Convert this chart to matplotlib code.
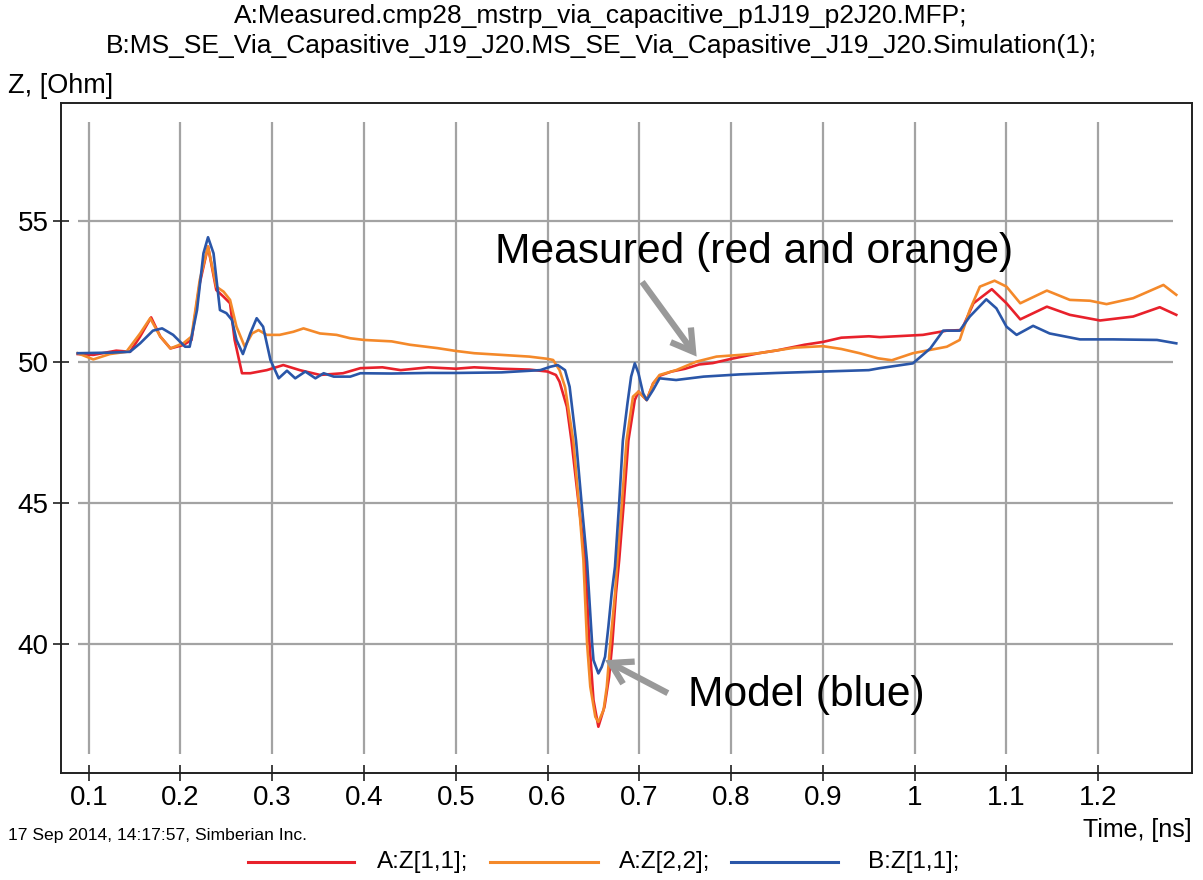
import matplotlib
matplotlib.use("Agg")
import matplotlib.pyplot as plt
from matplotlib.lines import Line2D

# ---- measured / simulated impedance profiles (time in ns, Z in Ohm) ----
t_a11 = [0.088, 0.105, 0.130, 0.145, 0.156, 0.168, 0.178, 0.189, 0.203, 0.212,
         0.221, 0.230, 0.239, 0.247, 0.254, 0.259, 0.267, 0.276, 0.294, 0.312,
         0.330, 0.352, 0.377, 0.396, 0.420, 0.440, 0.470, 0.500, 0.520, 0.550,
         0.580, 0.600, 0.609, 0.613, 0.621, 0.626, 0.633, 0.641, 0.645, 0.650,
         0.6553, 0.662, 0.667, 0.6705, 0.6745, 0.678, 0.683, 0.688, 0.695, 0.699,
         0.708, 0.715, 0.722, 0.735, 0.750, 0.765, 0.780, 0.800, 0.830, 0.850,
         0.880, 0.900, 0.920, 0.950, 0.962, 1.009, 1.035, 1.051, 1.064, 1.084,
         1.100, 1.115, 1.144, 1.169, 1.202, 1.238, 1.267, 1.285]
z_a11 = [50.27, 50.24, 50.39, 50.35, 50.89, 51.57, 50.89, 50.47, 50.59, 50.77,
         52.78, 54.08, 52.54, 52.30, 52.07, 50.77, 49.59, 49.59, 49.70, 49.88,
         49.70, 49.53, 49.59, 49.77, 49.80, 49.70, 49.80, 49.75, 49.80, 49.75,
         49.72, 49.65, 49.53, 49.29, 48.40, 47.20, 45.20, 42.97, 40.30, 38.00,
         37.06, 37.77, 38.83, 40.01, 41.79, 42.97, 45.00, 47.20, 48.64, 48.94,
         48.64, 49.23, 49.50, 49.65, 49.75, 49.90, 49.95, 50.10, 50.30, 50.40,
         50.60, 50.70, 50.85, 50.90, 50.87, 50.95, 51.10, 51.12, 52.07, 52.57,
         52.07, 51.50, 51.95, 51.66, 51.46, 51.60, 51.93, 51.66]

t_a22 = [0.088, 0.105, 0.123, 0.141, 0.156, 0.167, 0.178, 0.189, 0.203, 0.212,
         0.221, 0.230, 0.239, 0.247, 0.254, 0.261, 0.270, 0.278, 0.285, 0.294,
         0.308, 0.323, 0.334, 0.352, 0.370, 0.385, 0.400, 0.430, 0.450, 0.480,
         0.500, 0.520, 0.550, 0.580, 0.600, 0.606, 0.613, 0.619, 0.628, 0.634,
         0.639, 0.643, 0.6465, 0.652, 0.6553, 0.661, 0.6645, 0.668, 0.6735, 0.676,
         0.681, 0.686, 0.693, 0.699, 0.708, 0.715, 0.722, 0.740, 0.762, 0.784,
         0.810, 0.830, 0.850, 0.870, 0.900, 0.920, 0.940, 0.960, 0.975, 0.998,
         1.035, 1.049, 1.060, 1.071, 1.087, 1.100, 1.115, 1.144, 1.169, 1.191,
         1.209, 1.238, 1.271, 1.285]
z_a22 = [50.30, 50.08, 50.27, 50.35, 51.00, 51.54, 50.89, 50.47, 50.65, 50.89,
         52.90, 54.08, 52.66, 52.48, 52.19, 51.24, 50.53, 51.00, 51.12, 50.95,
         50.95, 51.06, 51.18, 51.00, 50.95, 50.83, 50.77, 50.72, 50.60, 50.48,
         50.38, 50.30, 50.24, 50.18, 50.10, 50.06, 49.70, 49.10, 47.20, 45.00,
         42.97, 40.01, 38.48, 37.41, 37.23, 37.65, 38.48, 39.90, 41.79, 42.97,
         45.00, 47.20, 48.76, 48.94, 48.64, 49.23, 49.53, 49.70, 50.00, 50.18,
         50.24, 50.30, 50.40, 50.50, 50.55, 50.45, 50.30, 50.12, 50.05, 50.30,
         50.53, 50.77, 51.83, 52.66, 52.87, 52.66, 52.07, 52.52, 52.19, 52.16,
         52.04, 52.25, 52.72, 52.37]

t_b11 = [0.088, 0.123, 0.145, 0.156, 0.170, 0.180, 0.192, 0.205, 0.210, 0.218,
         0.225, 0.230, 0.236, 0.243, 0.250, 0.256, 0.261, 0.268, 0.276, 0.283,
         0.290, 0.298, 0.307, 0.316, 0.325, 0.336, 0.347, 0.356, 0.367, 0.385,
         0.396, 0.430, 0.470, 0.500, 0.550, 0.592, 0.603, 0.611, 0.619, 0.624,
         0.631, 0.637, 0.643, 0.6485, 0.650, 0.6553, 0.659, 0.6626, 0.6662, 0.6698,
         0.6734, 0.678, 0.682, 0.687, 0.691, 0.695, 0.699, 0.704, 0.708, 0.715,
         0.722, 0.740, 0.770, 0.810, 0.850, 0.900, 0.950, 0.962, 0.998, 1.017,
         1.031, 1.049, 1.060, 1.078, 1.089, 1.100, 1.111, 1.129, 1.147, 1.180,
         1.216, 1.264, 1.285]
z_b11 = [50.30, 50.32, 50.35, 50.65, 51.10, 51.18, 50.95, 50.53, 50.53, 51.83,
         53.84, 54.41, 53.84, 51.83, 51.72, 51.48, 50.77, 50.27, 51.00, 51.54,
         51.24, 50.06, 49.41, 49.68, 49.41, 49.65, 49.41, 49.59, 49.47, 49.47,
         49.59, 49.58, 49.60, 49.60, 49.62, 49.70, 49.82, 49.88, 49.70, 49.11,
         47.20, 45.00, 42.90, 40.01, 39.42, 38.95, 39.18, 39.54, 40.60, 41.79,
         42.73, 45.00, 47.20, 48.52, 49.47, 49.94, 49.59, 48.88, 48.64, 49.00,
         49.41, 49.35, 49.47, 49.55, 49.60, 49.65, 49.70, 49.77, 49.94, 50.47,
         51.10, 51.10, 51.60, 52.21, 51.89, 51.24, 50.95, 51.27, 51.00, 50.79,
         50.79, 50.77, 50.65]

x_ticks = [0.1, 0.2, 0.3, 0.4, 0.5, 0.6, 0.7, 0.8, 0.9, 1.0, 1.1, 1.2]
x_tick_labels = ["0.1", "0.2", "0.3", "0.4", "0.5", "0.6", "0.7", "0.8", "0.9",
                 "1", "1.1", "1.2"]
y_ticks = [40, 45, 50, 55]
y_tick_labels = ["40", "45", "50", "55"]

series_names = ["A:Z[1,1];", "A:Z[2,2];", "B:Z[1,1];"]
series_colors = ["#e8212b", "#f4892a", "#2a56a8"]

title_lines = ["A:Measured.cmp28_mstrp_via_capacitive_p1J19_p2J20.MFP;",
               "B:MS_SE_Via_Capasitive_J19_J20.MS_SE_Via_Capasitive_J19_J20.Simulation(1);"]

plt.rcParams["font.family"] = ["Liberation Sans", "DejaVu Sans"]

W, H = 1203, 880
fig = plt.figure(figsize=(W / 100, H / 100), dpi=100)
ax = fig.add_axes([61 / W, 1 - 772.7 / H, (1191.7 - 61) / W, (772.7 - 102.7) / H])

ax.set_xlim(0.0698, 1.3018)
ax.set_ylim(35.43, 59.18)

# grid only spans the plotted data window
grid_c = "#a3a3a3"
ax.vlines(x_ticks, 36.1, 58.5, colors=grid_c, lw=1.6, zorder=1)
ax.hlines(y_ticks, 0.0884, 1.281, colors=grid_c, lw=1.6, zorder=1)

for t, z, c in zip([t_a11, t_a22, t_b11], [z_a11, z_a22, z_b11], series_colors):
    ax.plot(t, z, color=c, lw=1.9, zorder=3, solid_joinstyle="round")

for side in ("top", "right", "bottom", "left"):
    ax.spines[side].set_linewidth(1.4)
    ax.spines[side].set_color("#202020")

ax.set_xticks(x_ticks)
ax.set_xticklabels(x_tick_labels)
ax.set_yticks(y_ticks)
ax.set_yticklabels(y_tick_labels)
ax.tick_params(axis="both", direction="inout", length=12, width=1.2,
               labelsize=20, color="#202020")
ax.tick_params(axis="x", pad=3)
ax.tick_params(axis="y", pad=3)

# annotations
arrow_c = "#999999"
arrow_kw = dict(arrowstyle="->,head_length=0.75,head_width=0.45",
                color=arrow_c, lw=4.5, mutation_scale=20,
                shrinkA=0, shrinkB=0, capstyle="butt", joinstyle="miter")
ax.annotate("", xy=(0.7624, 50.18), xytext=(0.703, 52.83),
            arrowprops=arrow_kw, zorder=5)
ax.text(0.543, 53.89, "Measured (red and orange)", fontsize=30.7,
        ha="left", va="center", color="black", zorder=6)
ax.annotate("", xy=(0.6626, 39.42), xytext=(0.731, 38.25),
            arrowprops=arrow_kw, zorder=5)
ax.text(0.753, 38.18, "Model (blue)", fontsize=30.7,
        ha="left", va="center", color="black", zorder=6)

# header, axis captions and footer
fig.text(601 / W, 1 - 16 / H, title_lines[0], ha="center", va="center", fontsize=19)
fig.text(601 / W, 1 - 46 / H, title_lines[1], ha="center", va="center", fontsize=19)
fig.text(8 / W, 1 - 86 / H, "Z, [Ohm]", ha="left", va="center", fontsize=19.5)
fig.text(1192 / W, 1 - 830 / H, "Time, [ns]", ha="right", va="center", fontsize=18)
fig.text(8 / W, 1 - 835 / H, "17 Sep 2014, 14:17:57, Simberian Inc.",
         ha="left", va="center", fontsize=12.6)

# legend row
leg_y = 1 - 862 / H
leg_lines = [(248, 354), (490, 598), (731, 838)]
leg_text_x = [377, 619, 868]
for (x0, x1), tx, name, c in zip(leg_lines, leg_text_x, series_names, series_colors):
    fig.add_artist(Line2D([x0 / W, x1 / W], [leg_y, leg_y], color=c, lw=2.2,
                          transform=fig.transFigure))
    fig.text(tx / W, leg_y, name, ha="left", va="center", fontsize=17.5)

fig.savefig("out.png", dpi=100)
